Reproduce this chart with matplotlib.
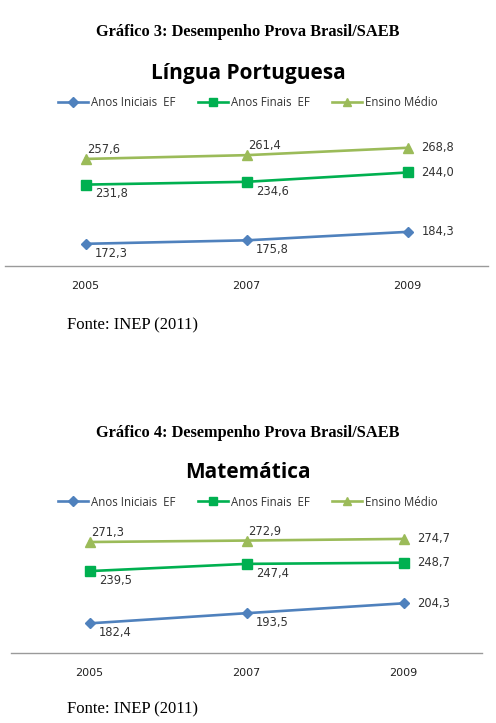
import matplotlib
matplotlib.use("Agg")
import matplotlib.pyplot as plt

years = ["2005", "2007", "2009"]
series_names = ["Anos Iniciais  EF", "Anos Finais  EF", "Ensino Médio"]
lp_iniciais = [172.3, 175.8, 184.3]
lp_finais = [231.8, 234.6, 244.0]
lp_medio = [257.6, 261.4, 268.8]
mat_iniciais = [182.4, 193.5, 204.3]
mat_finais = [239.5, 247.4, 248.7]
mat_medio = [271.3, 272.9, 274.7]

colors = ["#4F81BD", "#00B050", "#9BBB59"]
markers = ["D", "s", "^"]
msizes = [5.5, 7.5, 7.5]

W, H = 496, 723
fig = plt.figure(figsize=(W / 100, H / 100), dpi=100)

def fy(px):
    return 1 - px / H

def fx(px):
    return px / W

def draw_chart(left, right, bottom_px, top_px, ymax, data, fig_title, chart_title,
               title_y, ctitle_y, legend_y, fonte_y):
    ax = fig.add_axes([fx(left), fy(bottom_px), fx(right - left), (bottom_px - top_px) / H])
    x = list(range(len(years)))
    for i, (vals, name) in enumerate(zip(data, series_names)):
        ax.plot(x, vals, color=colors[i], marker=markers[i], markersize=msizes[i],
                linewidth=1.9, label=name, clip_on=False)
        for j, v in enumerate(vals):
            lbl = f"{v:.1f}".replace(".", ",")
            if j == len(vals) - 1:
                off, ha, va = (10, 0), "left", "center"
            elif i == 2:
                off, ha, va = (1, 2), "left", "bottom"
            else:
                off, ha, va = (7, -2), "left", "top"
            ax.annotate(lbl, (j, v), xytext=off, textcoords="offset points",
                        ha=ha, va=va, fontsize=8.3, color="#333333",
                        family="DejaVu Sans")
    ax.set_xlim(-0.5, len(years) - 0.5)
    ax.set_ylim(150, ymax)
    ax.set_xticks(x)
    ax.set_xticklabels(years, fontsize=8, family="DejaVu Sans", color="#222222")
    ax.tick_params(axis="x", length=0, pad=11)
    ax.set_yticks([])
    for s in ["top", "left", "right"]:
        ax.spines[s].set_visible(False)
    ax.spines["bottom"].set_color("#9a9a9a")
    ax.spines["bottom"].set_linewidth(1.0)
    ax.patch.set_alpha(0)

    fig.text(0.5, fy(title_y), fig_title, ha="center", va="center",
             family="Liberation Serif", weight="bold", fontsize=11.8)
    fig.text(0.5, fy(ctitle_y), chart_title, ha="center", va="center",
             family="Open Sans", weight="bold", fontsize=15)
    handles, labels = ax.get_legend_handles_labels()
    leg = fig.legend(handles, labels, loc="center",
                     bbox_to_anchor=(0.5, fy(legend_y)), ncol=3, frameon=False,
                     handlelength=2.6, columnspacing=1.9, handletextpad=0.3,
                     markerscale=0.85,
                     prop={"family": "Open Sans", "size": 8.3})
    for t in leg.get_texts():
        t.set_color("#333333")
    fig.text(fx(67), fy(fonte_y), "Fonte: INEP (2011)", ha="left", va="center",
             family="Liberation Serif", fontsize=12)
    return ax

draw_chart(5, 488, 266, 266 - 130 * 0.995, 280,
           [lp_iniciais, lp_finais, lp_medio],
           "Gráfico 3: Desempenho Prova Brasil/SAEB", "Língua Portuguesa",
           32, 73, 103, 325)
draw_chart(11, 482, 653, 653 - 130 * 0.915, 280,
           [mat_iniciais, mat_finais, mat_medio],
           "Gráfico 4: Desempenho Prova Brasil/SAEB", "Matemática",
           433, 473, 502, 709)

fig.savefig("out.png", dpi=100)
